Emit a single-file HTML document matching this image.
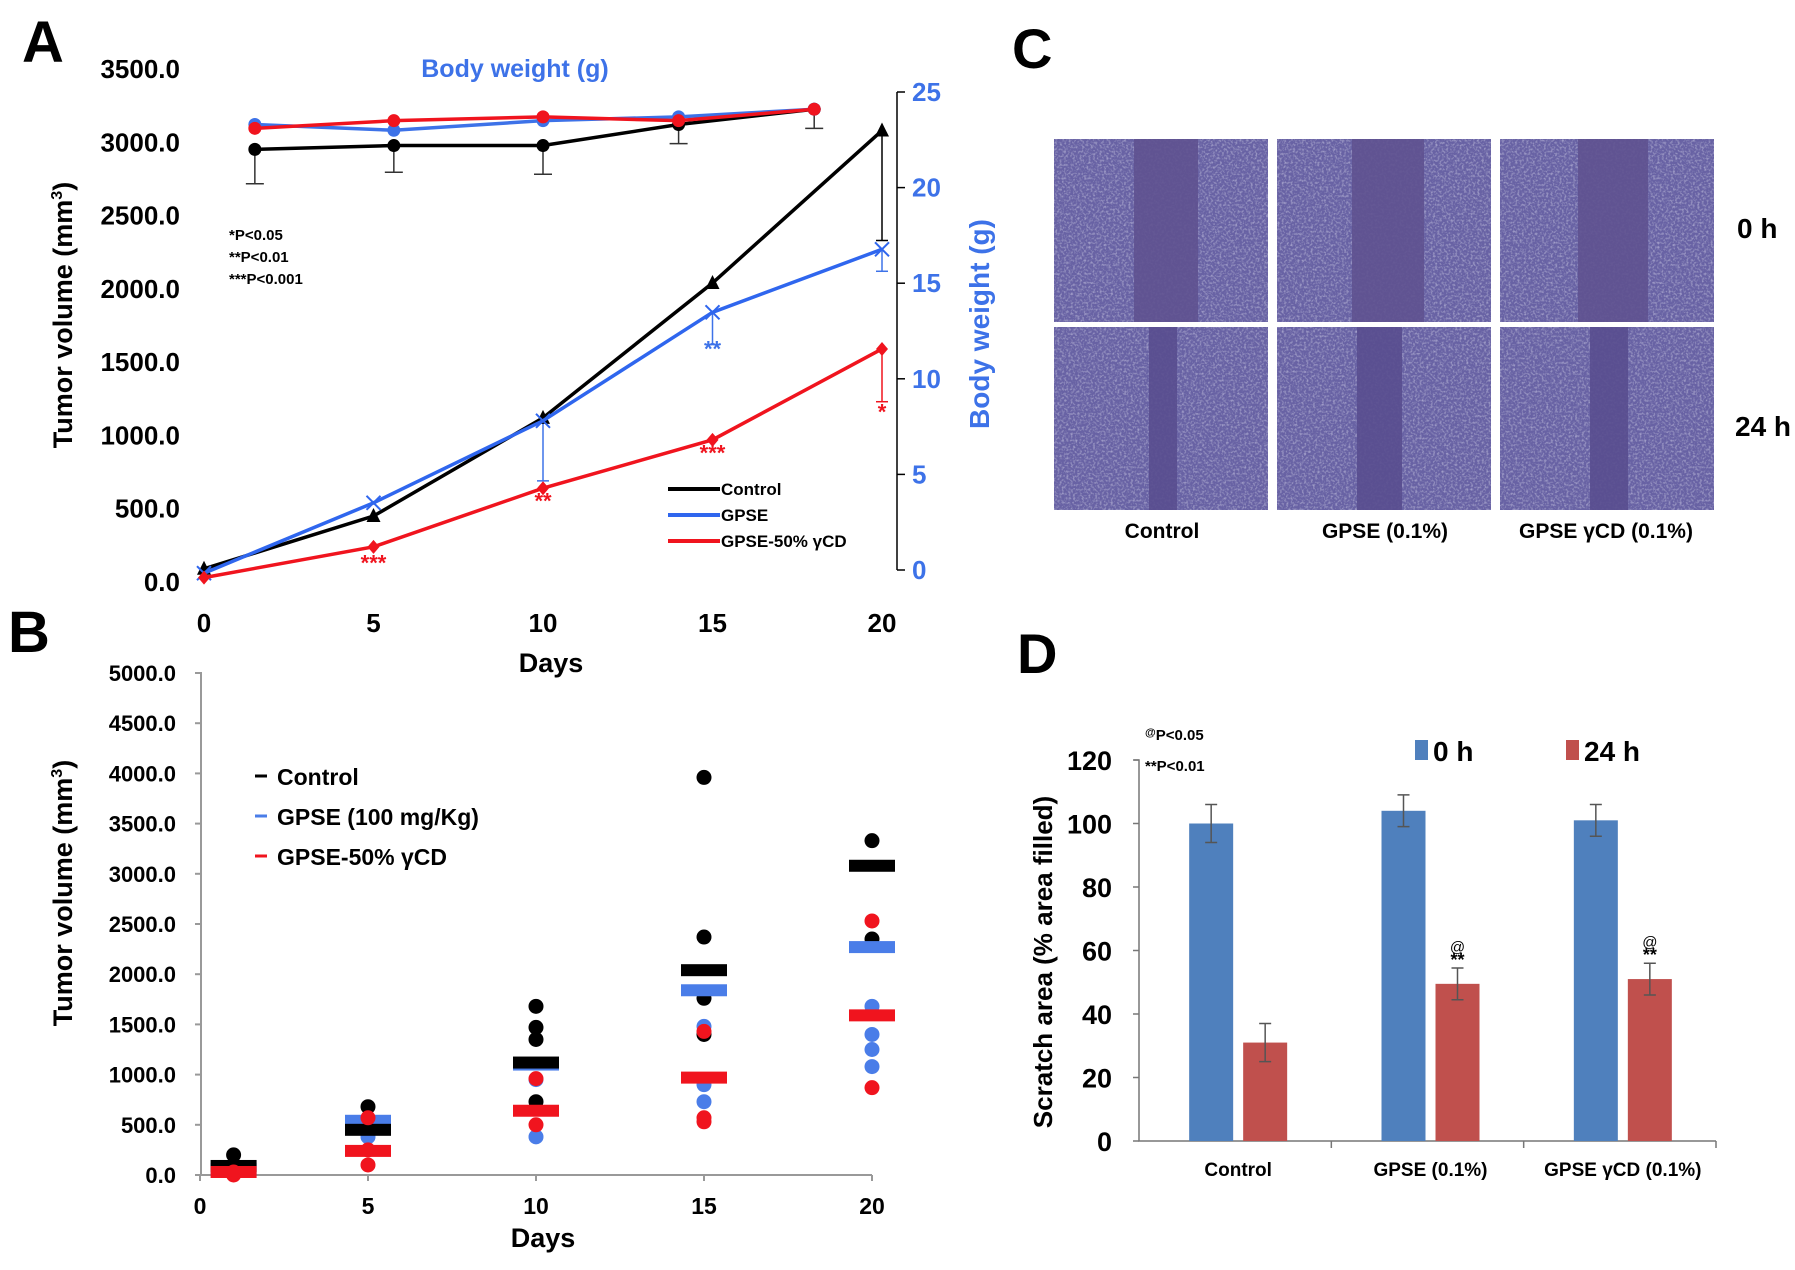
<!DOCTYPE html>
<html><head><meta charset="utf-8"><style>
body{margin:0;background:#fff}
svg{display:block;font-family:"Liberation Sans",Arial,sans-serif;font-weight:bold}
</style></head><body>
<svg id="fig" width="1795" height="1270" viewBox="0 0 1795 1270">
<defs>
<filter id="cells" x="0" y="0" width="100%" height="100%">
<feTurbulence type="fractalNoise" baseFrequency="0.45" numOctaves="2" seed="3" result="n"/>
<feColorMatrix in="n" type="matrix" values="0 0 0 0 0.6  0 0 0 0 0.58  0 0 0 0 0.82  0 0 0 1.2 -0.55" result="d"/>
<feComposite in="d" in2="SourceGraphic" operator="in" result="dd"/>
<feMerge><feMergeNode in="SourceGraphic"/><feMergeNode in="dd"/></feMerge>
</filter>
</defs>
<g id="panelA"></g>
<g id="panelB"></g>
<g id="panelC"></g>
<g id="panelD"></g>
</svg>
<script>
// ---- Panel A data ----
const daysA = [0, 5, 10, 15, 20];
const tumorControl = [90, 450, 1120, 2040, 3080];
const tumorGPSE = [60, 540, 1100, 1840, 2270];
const tumorCD = [30, 240, 640, 970, 1590];
const tumorControlErrLow = [0, 0, 0, 0, 2330];
const tumorGPSEErrLow = [0, 0, 690, 1620, 2120];
const tumorCDErrLow = [0, 0, 0, 0, 1230];
const bwDays = [1.5, 5.6, 10, 14, 18];
const bwControl = [22.0, 22.2, 22.2, 23.3, 24.1];
const bwControlErrLow = [20.2, 20.8, 20.7, 22.3, 23.1];
const bwGPSE = [23.3, 23.0, 23.5, 23.7, 24.1];
const bwCD = [23.1, 23.5, 23.7, 23.5, 24.1];
const leftTicksA = [0, 500, 1000, 1500, 2000, 2500, 3000, 3500];
const rightTicksA = [0, 5, 10, 15, 20, 25];
const xTicksA = [0, 5, 10, 15, 20];
// ---- Panel B data ----
const groupDaysB = [1, 5, 10, 15, 20];
const meanControlB = [90, 450, 1120, 2040, 3080];
const meanGPSEB = [60, 540, 1100, 1840, 2270];
const meanCDB = [30, 240, 640, 970, 1590];
const ptsControlB = [[200, 100], [680, 560], [1680, 1470, 1350, 730], [3960, 2370, 1760, 1400], [3330, 2350]];
const ptsGPSEB = [[40], [380, 500], [380, 950], [1480, 900, 730], [1680, 1400, 1250, 1080]];
const ptsCDB = [[0, 30], [570, 250, 100], [960, 500], [1430, 570, 530], [2530, 870]];
const yTicksB = [0, 500, 1000, 1500, 2000, 2500, 3000, 3500, 4000, 4500, 5000];
const xTicksB = [0, 5, 10, 15, 20];
// ---- Panel D data ----
const catsD = ["Control", "GPSE (0.1%)", "GPSE γCD (0.1%)"];
const val0h = [100, 104, 101];
const err0h = [6, 5, 5];
const val24h = [31, 49.5, 51];
const err24h = [6, 5, 5];
const yTicksD = [0, 20, 40, 60, 80, 100, 120];

const NS = "http://www.w3.org/2000/svg";
function mk(parent, tag, attrs, text) {
  const e = document.createElementNS(NS, tag);
  for (const k in attrs) e.setAttribute(k, attrs[k]);
  if (text !== undefined) e.textContent = text;
  parent.appendChild(e);
  return e;
}
const fmt1 = v => v.toFixed(1);

// ================= Panel A =================
(function () {
  const g = document.getElementById('panelA');
  const xA = d => 204 + d * 33.9;
  const yL = v => 582 - v * (513 / 3500);
  const yR = v => 570 - v * (478 / 25);
  let t = mk(g, 'text', {x: 22, y: 62, 'font-size': 58});
  t.textContent = 'A';
  
  
  t = mk(g, 'text', {x: 515, y: 77, 'font-size': 25, fill: '#3d72e8', 'text-anchor': 'middle'}, 'Body weight (g)');
  
  
  leftTicksA.forEach(v => {
    const e = mk(g, 'text', {x: 180, y: yL(v) + 9, 'font-size': 26, 'text-anchor': 'end'}, fmt1(v));
    
    
  });
  xTicksA.forEach(v => {
    const e = mk(g, 'text', {x: xA(v), y: 632, 'font-size': 26, 'text-anchor': 'middle'}, String(v));
    
    
  });
  t = mk(g, 'text', {x: 551, y: 672, 'font-size': 27, 'text-anchor': 'middle'}, 'Days');
  
  
  t = mk(g, 'text', {transform: 'translate(72,315) rotate(-90)', 'font-size': 27, 'text-anchor': 'middle'});
  t.innerHTML = 'Tumor volume (mm<tspan font-size="16" dy="-10">3</tspan><tspan dy="10">)</tspan>';
  
  
  const ra = mk(g, 'line', {x1: 897, x2: 897, y1: yR(25), y2: yR(0), stroke: '#000', 'stroke-width': 1.5});
  
  
  rightTicksA.forEach(v => {
    mk(g, 'line', {x1: 897, x2: 905, y1: yR(v), y2: yR(v), stroke: '#000', 'stroke-width': 1.5});
    const e = mk(g, 'text', {x: 912, y: yR(v) + 9, 'font-size': 26, fill: '#3d72e8'}, String(v));
    
    
  });
  t = mk(g, 'text', {transform: 'translate(989,324) rotate(-90)', 'font-size': 28, fill: '#3d72e8', 'text-anchor': 'middle'}, 'Body weight (g)');
  
  
  ['*P<0.05', '**P<0.01', '***P<0.001'].forEach((s, i) => {
    const e = mk(g, 'text', {x: 229, y: 240 + i * 22, 'font-size': 15}, s);
    
    
  });
  bwDays.forEach((d, i) => {
    mk(g, 'line', {x1: xA(d), x2: xA(d), y1: yR(bwControl[i]), y2: yR(bwControlErrLow[i]), stroke: '#333', 'stroke-width': 1.5});
    mk(g, 'line', {x1: xA(d) - 9, x2: xA(d) + 9, y1: yR(bwControlErrLow[i]), y2: yR(bwControlErrLow[i]), stroke: '#333', 'stroke-width': 1.5});
  });
  function series(xs, ys, yf, color, name, marker) {
    const pts = xs.map((d, i) => xA(d) + ',' + yf(ys[i])).join(' ');
    const l = mk(g, 'polyline', {points: pts, fill: 'none', stroke: color, 'stroke-width': 3.5});
    
    
    xs.forEach((d, i) => {
      const cx = xA(d), cy = yf(ys[i]);
      let m;
      if (marker === 'circle') m = mk(g, 'circle', {cx, cy, r: 6.5, fill: color});
      else if (marker === 'tri') m = mk(g, 'polygon', {points: `${cx},${cy - 8} ${cx - 7},${cy + 6} ${cx + 7},${cy + 6}`, fill: color});
      else if (marker === 'x') m = mk(g, 'path', {d: `M${cx - 7} ${cy - 7}L${cx + 7} ${cy + 7}M${cx - 7} ${cy + 7}L${cx + 7} ${cy - 7}`, stroke: color, 'stroke-width': 2});
      else m = mk(g, 'polygon', {points: `${cx},${cy - 7} ${cx + 6},${cy} ${cx},${cy + 7} ${cx - 6},${cy}`, fill: color});
      
      
    });
  }
  series(bwDays, bwControl, yR, '#000', 'bw-control-line', 'circle');
  series(bwDays, bwGPSE, yR, '#3d72e8', 'bw-gpse-line', 'circle');
  series(bwDays, bwCD, yR, '#f0141e', 'bw-gpse-cd-line', 'circle');
  function errs(lows, vals, color) {
    daysA.forEach((d, i) => {
      if (!lows[i]) return;
      mk(g, 'line', {x1: xA(d), x2: xA(d), y1: yL(vals[i]), y2: yL(lows[i]), stroke: color, 'stroke-width': 1.5});
      mk(g, 'line', {x1: xA(d) - 6, x2: xA(d) + 6, y1: yL(lows[i]), y2: yL(lows[i]), stroke: color, 'stroke-width': 1.5});
    });
  }
  errs(tumorControlErrLow, tumorControl, '#000');
  errs(tumorGPSEErrLow, tumorGPSE, '#3d72e8');
  errs(tumorCDErrLow, tumorCD, '#f0141e');
  series(daysA, tumorControl, yL, '#000', 'tumor-control-line', 'tri');
  series(daysA, tumorGPSE, yL, '#2f66ee', 'tumor-gpse-line', 'x');
  series(daysA, tumorCD, yL, '#f0141e', 'tumor-gpse-cd-line', 'diamond');
  [[15, 1540, '**', '#3d72e8'], [5, 80, '***', '#f0141e'], [10, 500, '**', '#f0141e'], [15, 830, '***', '#f0141e'], [20, 1110, '*', '#f0141e']].forEach(a => {
    const e = mk(g, 'text', {x: xA(a[0]), y: yL(a[1]), 'font-size': 22, fill: a[3], 'text-anchor': 'middle'}, a[2]);
    
    
  });
  [['Control', '#000'], ['GPSE', '#2f66ee'], ['GPSE-50% γCD', '#f0141e']].forEach((it, i) => {
    const y = 489 + i * 26;
    const le = mk(g, 'g', {});
    
    
    mk(le, 'line', {x1: 668, x2: 720, y1: y, y2: y, stroke: it[1], 'stroke-width': 4});
    mk(le, 'text', {x: 721, y: y + 6, 'font-size': 17}, it[0]);
  });
})();

// ================= Panel B =================
(function () {
  const g = document.getElementById('panelB');
  const xB = d => 200 + d * 33.6;
  const yB = v => 1175 - v * (502 / 5000);
  let t = mk(g, 'text', {x: 8, y: 652, 'font-size': 58}, 'B');
  
  
  const ax = mk(g, 'path', {d: `M197 ${yB(5000)}H201V1175H872`, fill: 'none', stroke: '#999', 'stroke-width': 2});
  
  
  yTicksB.forEach(v => {
    mk(g, 'line', {x1: 195, x2: 201, y1: yB(v), y2: yB(v), stroke: '#999', 'stroke-width': 2});
    const e = mk(g, 'text', {x: 176, y: yB(v) + 8, 'font-size': 22, 'text-anchor': 'end'}, fmt1(v));
    
    
  });
  xTicksB.forEach(v => {
    mk(g, 'line', {x1: xB(v), x2: xB(v), y1: 1175, y2: 1181, stroke: '#999', 'stroke-width': 2});
    const e = mk(g, 'text', {x: xB(v), y: 1214, 'font-size': 23, 'text-anchor': 'middle'}, String(v));
    
    
  });
  t = mk(g, 'text', {x: 543, y: 1247, 'font-size': 27, 'text-anchor': 'middle'}, 'Days');
  
  
  t = mk(g, 'text', {transform: 'translate(72,893) rotate(-90)', 'font-size': 27, 'text-anchor': 'middle'});
  t.innerHTML = 'Tumor volume (mm<tspan font-size="16" dy="-10">3</tspan><tspan dy="10">)</tspan>';
  
  
  [['Control', '#000'], ['GPSE (100 mg/Kg)', '#4a7de8'], ['GPSE-50% γCD', '#f0141e']].forEach((it, i) => {
    const y = 776 + i * 40;
    const le = mk(g, 'g', {});
    
    
    mk(le, 'line', {x1: 255, x2: 267, y1: y, y2: y, stroke: it[1], 'stroke-width': 3});
    mk(le, 'text', {x: 277, y: y + 9, 'font-size': 23}, it[0]);
  });
  function pts(arr, color, name) {
    arr.forEach((grp, i) => grp.forEach(v => {
      const c = mk(g, 'circle', {cx: xB(groupDaysB[i]), cy: yB(v), r: 7.5, fill: color});
      
      
    }));
  }
  function means(arr, color, name) {
    arr.forEach((v, i) => {
      const r = mk(g, 'rect', {x: xB(groupDaysB[i]) - 23, y: yB(v) - 6, width: 46, height: 12, fill: color});
      
      
    });
  }
  pts(ptsGPSEB, '#4a7de8', 'gpse-point');
  pts(ptsControlB, '#000', 'control-point');
  means(meanGPSEB, '#4a7de8', 'gpse-mean');
  means(meanControlB, '#000', 'control-mean');
  pts(ptsCDB, '#f0141e', 'gpse-cd-point');
  means(meanCDB, '#f0141e', 'gpse-cd-mean');
})();

// ================= Panel C =================
(function () {
  const g = document.getElementById('panelC');
  let t = mk(g, 'text', {x: 1012, y: 68, 'font-size': 56}, 'C');
  
  
  const cols = [1054, 1277, 1500];
  const rows = [139, 327];
  const stripe0 = [[80, 64], [75, 72], [78, 70]];
  const stripe24 = [[95, 28], [80, 45], [90, 38]];
  rows.forEach((ry, ri) => cols.forEach((cx, ci) => {
    const img = mk(g, 'g', {});
    
    
    mk(img, 'rect', {x: cx, y: ry, width: 214, height: 183, fill: '#6862a4', filter: 'url(#cells)'});
    const s = ri === 0 ? stripe0[ci] : stripe24[ci];
    mk(img, 'rect', {x: cx + s[0], y: ry, width: s[1], height: 183, fill: ri === 0 ? '#5f5290' : '#594e8f', opacity: 0.9});
  }));
  t = mk(g, 'text', {x: 1737, y: 238, 'font-size': 28}, '0 h');
  
  
  t = mk(g, 'text', {x: 1735, y: 436, 'font-size': 28}, '24 h');
  
  
  [['Control', 1162], ['GPSE (0.1%)', 1385], ['GPSE γCD (0.1%)', 1606]].forEach(a => {
    const e = mk(g, 'text', {x: a[1], y: 538, 'font-size': 21, 'text-anchor': 'middle'}, a[0]);
    
    
  });
})();

// ================= Panel D =================
(function () {
  const g = document.getElementById('panelD');
  const yD = v => 1141 - v * (381 / 120);
  const x0 = 1139, x1 = 1716;
  const cw = (x1 - x0) / catsD.length;
  let t = mk(g, 'text', {x: 1017, y: 673, 'font-size': 56}, 'D');
  
  
  const ax = mk(g, 'path', {d: `M1134 ${yD(120)}H1139V1141H${x1}`, fill: 'none', stroke: '#777', 'stroke-width': 1.5});
  
  
  yTicksD.forEach(v => {
    mk(g, 'line', {x1: 1133, x2: 1139, y1: yD(v), y2: yD(v), stroke: '#777', 'stroke-width': 1.5});
    const e = mk(g, 'text', {x: 1112, y: yD(v) + 10, 'font-size': 27, 'text-anchor': 'end'}, String(v));
    
    
  });
  for (let i = 1; i <= catsD.length; i++) mk(g, 'line', {x1: x0 + i * cw, x2: x0 + i * cw, y1: 1141, y2: 1148, stroke: '#777', 'stroke-width': 1.5});
  t = mk(g, 'text', {transform: 'translate(1052,962) rotate(-90)', 'font-size': 26, 'text-anchor': 'middle'}, 'Scratch area (% area filled)');
  
  
  t = mk(g, 'text', {x: 1145, y: 740, 'font-size': 15});
  t.innerHTML = '<tspan font-size="11" dy="-4">@</tspan><tspan dy="4">P&lt;0.05</tspan>';
  
  
  t = mk(g, 'text', {x: 1145, y: 771, 'font-size': 15}, '**P<0.01');
  
  
  const bw = 44;
  catsD.forEach((c, i) => {
    const cx = x0 + cw * (i + 0.5);
    const bx0 = cx - 2 - bw, bx1 = cx + 8;
    const b0 = mk(g, 'rect', {x: bx0, y: yD(val0h[i]), width: bw, height: 1141 - yD(val0h[i]), fill: '#4f80bd'});
    
    
    const b1 = mk(g, 'rect', {x: bx1, y: yD(val24h[i]), width: bw, height: 1141 - yD(val24h[i]), fill: '#c0504d'});
    
    
    [[bx0 + bw / 2, val0h[i], err0h[i]], [bx1 + bw / 2, val24h[i], err24h[i]]].forEach(e => {
      mk(g, 'path', {d: `M${e[0]} ${yD(e[1] - e[2])}V${yD(e[1] + e[2])}M${e[0] - 6} ${yD(e[1] - e[2])}h12M${e[0] - 6} ${yD(e[1] + e[2])}h12`, stroke: '#555', 'stroke-width': 1.5, fill: 'none'});
    });
    if (i > 0) {
      const m = mk(g, 'text', {x: bx1 + bw / 2, y: yD(val24h[i] + err24h[i]) - 2, 'font-size': 18, 'text-anchor': 'middle'}, '**');
      
      
      const a = mk(g, 'text', {x: bx1 + bw / 2, y: yD(val24h[i] + err24h[i]) - 16, 'font-size': 15, 'text-anchor': 'middle', 'font-weight': 'normal'}, '@');
      
      
    }
    const l = mk(g, 'text', {x: cx + 3, y: 1176, 'font-size': 19, 'text-anchor': 'middle'}, c);
    
    
  });
  [['0 h', '#4f80bd', 1415], ['24 h', '#c0504d', 1566]].forEach(it => {
    const le = mk(g, 'g', {});
    
    
    mk(le, 'rect', {x: it[2], y: 740, width: 13, height: 20, fill: it[1]});
    mk(le, 'text', {x: it[2] + 18, y: 761, 'font-size': 28}, it[0]);
  });
})();
</script>
</body></html>
